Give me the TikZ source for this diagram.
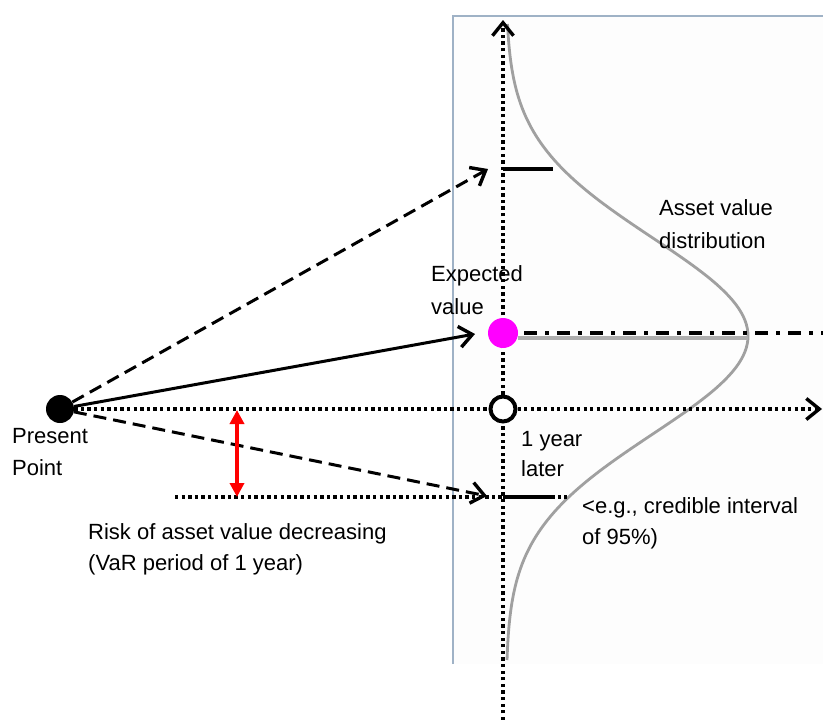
\documentclass[tikz,border=0pt]{standalone}
\usepackage{fontspec}
\setmainfont{Liberation Sans}
\usetikzlibrary{arrows.meta}
\definecolor{panelline}{HTML}{9FB2C6}
\definecolor{curvegray}{HTML}{A0A0A0}
\definecolor{evmag}{HTML}{FF00FF}
\definecolor{panelbg}{HTML}{FDFDFD}
\tikzset{
  lbl/.style={inner sep=0pt, anchor=base west, font=\fontsize{22}{26}\selectfont},
  axisdot/.style={line width=4pt, dash pattern=on 3.3pt off 3.3pt},
  barb/.style={-{Straight Barb[length=13pt,width=21pt,line width=3.4pt]}},
  dasharrow/.style={line width=3pt, dash pattern=on 13pt off 7pt, barb},
  tickline/.style={line width=3.4pt},
}
\begin{document}
\begin{tikzpicture}[x=1pt,y=-1pt]
\useasboundingbox (0,0) rectangle (823,720);
% panel
\fill[panelbg] (453,16) rectangle (823,664);
\draw[panelline, line width=1.4pt] (453,664) -- (453,16) -- (823,16);
% distribution curve
\draw[curvegray, line width=2.8pt] plot[domain=24:660, samples=160, variable=\t] ({506+242*exp(-0.5*((\t-336)/98)^2)}, \t);
% nodes
\node[circle, fill=black, minimum size=28pt, inner sep=0pt] (pp) at (60,409) {};
\node[circle, fill=white, draw=black, line width=4pt, minimum size=25pt, inner sep=0pt] (oy) at (503,409) {};
\coordinate (vtop) at (503,20);
\coordinate (vbot) at (503,720);
\coordinate (hend) at (822,409);
% axes
\draw[axisdot] (vbot) -- (oy.south);
\draw[axisdot, barb] (oy.north) -- (vtop);
\draw[axisdot, barb] (oy.east) -- (hend);
\draw[axisdot] (pp.east) -- (oy.west);
% lower dotted line and ticks
\coordinate (lowl) at (175,497);
\coordinate (lowr) at (567,497);
\draw[axisdot] (lowl) -- (lowr);
\coordinate (t1a) at (503,169); \coordinate (t1b) at (553,169);
\coordinate (t2a) at (503,497); \coordinate (t2b) at (555,497);
\draw[tickline] (t1a) -- (t1b);
\draw[tickline] (t2a) -- (t2b);
% expected value lines
\node[circle, fill=evmag, minimum size=30pt, inner sep=0pt] (ev) at (503,333) {};
\coordinate (peak) at (748,338);
\coordinate (dde) at (823,333);
\draw[curvegray!85!white, line width=4pt] (ev.east |- peak) -- (peak);
\draw[line width=3.8pt, dash pattern=on 13pt off 8pt on 4pt off 8pt] ([xshift=6pt]ev.east) -- (dde);
% arrows from present point
\coordinate (upTip) at (488,169);
\coordinate (evTip) at (475,334);
\coordinate (lowTip) at (487,496);
\draw[dasharrow] (pp) -- (upTip);
\draw[line width=3pt, barb] (pp) -- (evTip);
\draw[dasharrow] (pp) -- (lowTip);
% red risk arrow
\coordinate (ra) at (237,410);
\coordinate (rb) at (237,497);
\draw[red, line width=4pt, {Triangle[length=14pt,width=14pt]}-{Triangle[length=14pt,width=14pt]}] (ra) -- (rb);
% labels
\node[lbl] (pres1) at (12,443) {Present};
\node[lbl] (pres2) at (12,475) {Point};
\node[lbl] (exp1) at (431,281) {Expected};
\node[lbl] (exp2) at (431,314) {value};
\node[lbl] (yr1) at (521,446) {1 year};
\node[lbl] (yr2) at (521,476) {later};
\node[lbl] (avd1) at (659,215) {Asset value};
\node[lbl] (avd2) at (659,248) {distribution};
\node[lbl] (ci1) at (582,513) {<e.g., credible interval};
\node[lbl] (ci2) at (582,544) {of 95\%)};
\node[lbl] (risk1) at (88,539) {Risk of asset value decreasing};
\node[lbl] (risk2) at (88,570) {(VaR period of 1 year)};
\end{tikzpicture}
\end{document}
